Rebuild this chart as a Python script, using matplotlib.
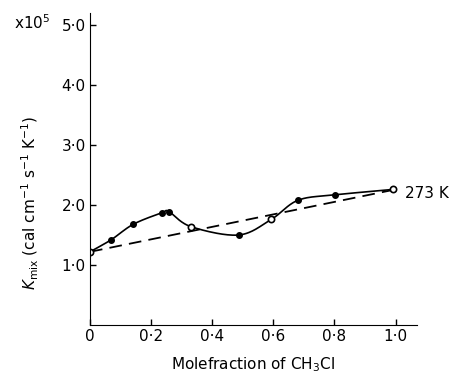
import numpy as np
import matplotlib.pyplot as plt

# --- data ---
x_frac = [0.0, 0.069, 0.142, 0.235, 0.258, 0.33, 0.486, 0.593, 0.681, 0.803, 0.992]
k_mix = [1.22, 1.42, 1.68, 1.87, 1.89, 1.64, 1.50, 1.76, 2.08, 2.17, 2.26]
open_pts = [0, 5, 7, 10]  # points drawn hollow in the original

ideal_x = [0.0, 1.0]
ideal_k = [1.22, 2.26]

x_ticks = [0, 0.2, 0.4, 0.6, 0.8, 1.0]
x_ticklabels = ['0', '0·2', '0·4', '0·6', '0·8', '1·0']
y_ticks = [1, 2, 3, 4, 5]
y_ticklabels = ['1·0', '2·0', '3·0', '4·0', '5·0']


def smooth_curve(xs, ys, n=30):
    # Catmull-Rom through the measured points, only for drawing the line
    p = np.column_stack([xs, ys])
    p = np.vstack([2 * p[0] - p[1], p, 2 * p[-1] - p[-2]])
    out = []
    t = np.linspace(0, 1, n)[:, None]
    for i in range(1, len(p) - 2):
        p0, p1, p2, p3 = p[i - 1], p[i], p[i + 1], p[i + 2]
        seg = 0.5 * ((2 * p1) + (-p0 + p2) * t + (2 * p0 - 5 * p1 + 4 * p2 - p3) * t ** 2
                     + (-p0 + 3 * p1 - 3 * p2 + p3) * t ** 3)
        out.append(seg)
    out = np.vstack(out)
    return out[:, 0], out[:, 1]


plt.rcParams['font.family'] = 'DejaVu Sans'
fig = plt.figure(figsize=(4.55, 3.76), dpi=100)
ax = fig.add_axes([0.1978, 0.1356, 0.7187, 0.8298])

cx, cy = smooth_curve(np.array(x_frac), np.array(k_mix))
ax.plot(cx, cy, color='black', lw=1.2)
ax.plot(ideal_x, ideal_k, color='black', lw=1.3, dashes=(7, 4))

xa = np.array(x_frac)
ka = np.array(k_mix)
filled = [i for i in range(len(xa)) if i not in open_pts]
ax.plot(xa[filled], ka[filled], 'o', color='black', ms=4)
ax.plot(xa[open_pts], ka[open_pts], 'o', mfc='white', mec='black', mew=1.2, ms=4.5)

ax.set_xlim(0, 1.07)
ax.set_ylim(0, 5.2)
ax.spines['top'].set_visible(False)
ax.spines['right'].set_visible(False)
ax.set_xticks(x_ticks)
ax.set_xticklabels(x_ticklabels, fontsize=11)
ax.set_yticks(y_ticks)
ax.set_yticklabels(y_ticklabels, fontsize=11)
ax.tick_params(direction='in', length=4, width=1, pad=3)

ax.set_xlabel('Molefraction of CH$_3$Cl', fontsize=11, labelpad=8)
ax.set_ylabel(r'$K_{\rm mix}$ (cal cm$^{-1}$ s$^{-1}$ K$^{-1}$)', fontsize=11, labelpad=8)
ax.yaxis.set_label_coords(-0.15, 0.39)

fig.text(0.03, 0.94, r'x10$^5$', fontsize=11, ha='left', va='center')
ax.text(1.03, 2.2, '273 K', fontsize=11, ha='left', va='center', clip_on=False)

fig.savefig('out.png', dpi=100)
